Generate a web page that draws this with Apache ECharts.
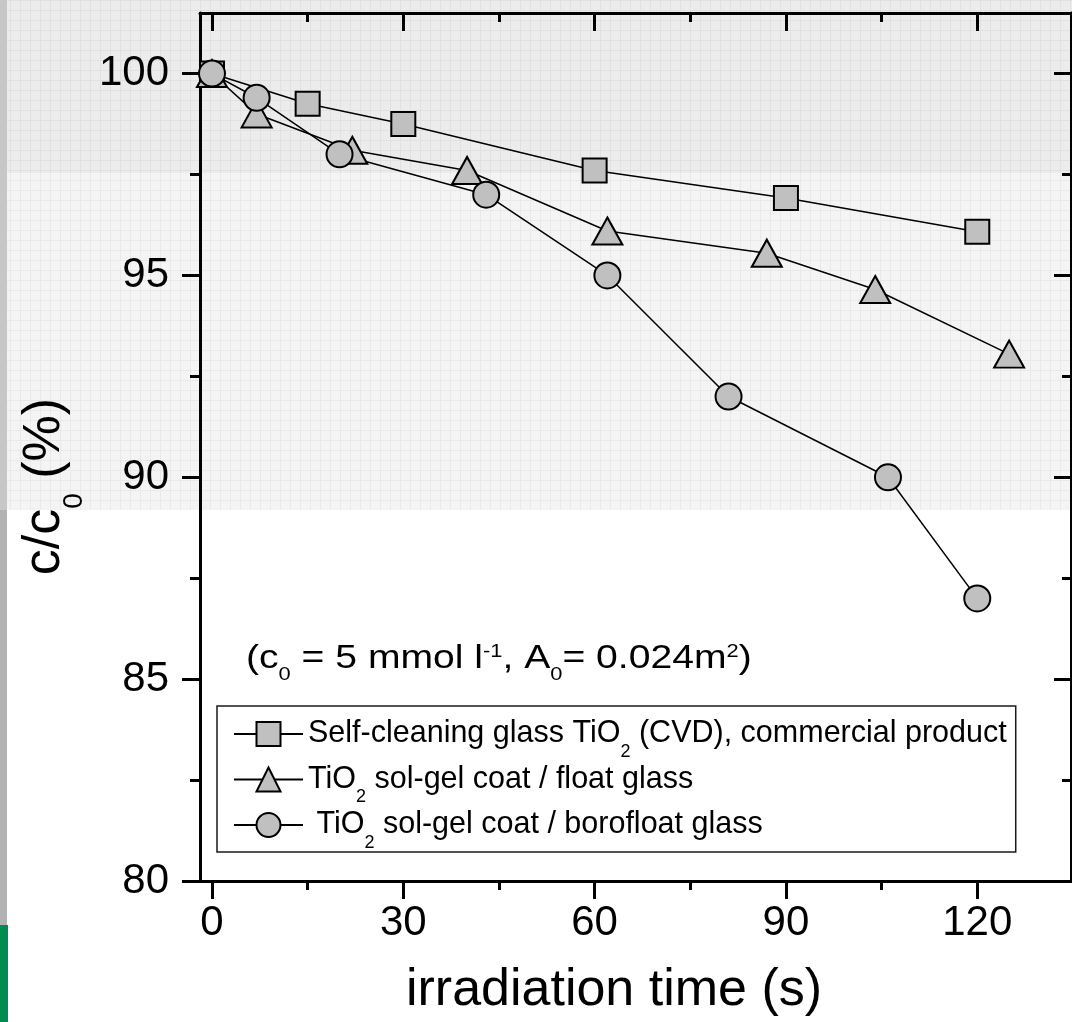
<!DOCTYPE html>
<html>
<head>
<meta charset="utf-8">
<script src="https://cdn.jsdelivr.net/npm/echarts@6/dist/echarts.min.js"></script>
<style>
  html, body { margin: 0; padding: 0; background: #ffffff; }
  #chart { width: 1072px; height: 1022px; }
</style>
</head>
<body>
<div id="chart"></div>
<script>
// Measured relative concentration c/c0 (%) against irradiation time (s)
const timeCVD = [0, 15, 30, 60, 90, 120];
const ratioCVD = [100, 99.25, 98.75, 97.6, 96.92, 96.08];

const timeFloat = [0, 7, 22, 40, 62, 87, 104, 125];
const ratioFloat = [100, 99.0, 98.1, 97.6, 96.1, 95.55, 94.65, 93.05];

const timeBoro = [0, 7, 20, 43, 62, 81, 106, 120];
const ratioBoro = [100, 99.4, 98.0, 97.0, 95.0, 92.0, 90.0, 87.0];

const seriesNames = ['cvd', 'float', 'borofloat'];
const legendLabels = [
  'Self-cleaning glass TiO{sub|2} (CVD), commercial product',
  'TiO{sub|2} sol-gel coat / float glass',
  ' TiO{sub|2} sol-gel coat / borofloat glass'
];

// Axis ticks
const xMajorTicks = [0, 30, 60, 90, 120];
const xMinorTicks = [15, 45, 75, 105];
const yMajorTicks = [80, 85, 90, 95, 100];
const yMinorTicks = [82.5, 87.5, 92.5, 97.5];
const xRange = [-1.88, 134.7];
const yRange = [80, 101.5];

const FONT = '"Liberation Sans", Arial, Helvetica, sans-serif';

function pairs(xs, ys) { return xs.map((x, i) => [x, ys[i]]); }

// faint squared-paper tile for the page background
function tile(base, line) {
  const c = document.createElement('canvas');
  c.width = 10; c.height = 10;
  const g = c.getContext('2d');
  g.fillStyle = base; g.fillRect(0, 0, 10, 10);
  g.fillStyle = line; g.fillRect(0, 0, 10, 1); g.fillRect(0, 0, 1, 10);
  return c;
}

const frameLine = { show: true, onZero: false, lineStyle: { color: '#000', width: 3 } };
const tickStyle = { color: '#000', width: 3 };

function xAxisDef(position, ticks, len, inside, withLine, withLabels) {
  const a = {
    type: 'value', gridIndex: 0, position: position,
    min: xRange[0], max: xRange[1],
    axisLine: withLine ? frameLine : { show: false, onZero: false },
    axisTick: { show: true, customValues: ticks, length: len, inside: inside, lineStyle: tickStyle },
    axisLabel: { show: false },
    splitLine: { show: false }
  };
  if (withLabels) {
    a.axisLabel = { show: true, customValues: xMajorTicks, fontSize: 42, color: '#000', fontFamily: FONT, margin: 21 };
    a.name = 'irradiation time (s)';
    a.nameLocation = 'middle';
    a.nameGap = 84;
    a.nameTextStyle = { fontSize: 52, color: '#000', fontFamily: FONT, padding: [0, 43, 0, 0] };
  }
  return a;
}

function yAxisDef(position, ticks, len, inside, withLine, withLabels) {
  const a = {
    type: 'value', gridIndex: 0, position: position,
    min: yRange[0], max: yRange[1],
    axisLine: withLine ? frameLine : { show: false, onZero: false },
    axisTick: { show: true, customValues: ticks, length: len, inside: inside, lineStyle: tickStyle },
    axisLabel: { show: false },
    splitLine: { show: false }
  };
  if (withLabels) {
    a.axisLabel = { show: true, customValues: yMajorTicks, fontSize: 42, color: '#000', fontFamily: FONT, margin: 31 };
    a.name = '{n|c/c}{s|0}{n| (%)}';
    a.nameLocation = 'middle';
    a.nameRotate = 90;
    a.nameGap = 124;
    a.nameTextStyle = {
      color: '#000', fontFamily: FONT, fontSize: 52, lineHeight: 52,
      padding: [0, 79, 0, 0],
      rich: {
        n: { fontSize: 52, lineHeight: 52, fontFamily: FONT, color: '#000' },
        s: { fontSize: 28, lineHeight: 52, fontFamily: FONT, color: '#000', verticalAlign: 'top', padding: [41, 0, 0, 0] }
      }
    };
  }
  return a;
}

const markerFill = '#c0c0c0';
function lineSeries(name, xs, ys, symbol, size) {
  return {
    name: name, type: 'line', xAxisIndex: 0, yAxisIndex: 0,
    data: pairs(xs, ys),
    symbol: symbol, symbolSize: size, showSymbol: true,
    lineStyle: { color: '#000', width: 1.5 },
    itemStyle: { color: markerFill, borderColor: '#000', borderWidth: 2 },
    emphasis: { disabled: true },
    silent: true
  };
}

const chart = echarts.init(document.getElementById('chart'), null, { renderer: 'canvas' });

const option = {
  animation: false,
  backgroundColor: '#ffffff',
  grid: { left: 200, top: 13, right: 1, bottom: 136, containLabel: false },
  xAxis: [
    xAxisDef('bottom', xMajorTicks, 18, false, true, true),
    xAxisDef('bottom', xMinorTicks, 9, false, false, false),
    xAxisDef('top', xMajorTicks, 18, true, true, false),
    xAxisDef('top', xMinorTicks, 9, true, false, false)
  ],
  yAxis: [
    yAxisDef('left', yMajorTicks, 18, false, true, true),
    yAxisDef('left', yMinorTicks, 10, false, false, false),
    yAxisDef('right', yMajorTicks, 17, true, true, false),
    yAxisDef('right', yMinorTicks, 9, true, false, false)
  ],
  legend: {
    data: seriesNames,
    orient: 'vertical',
    left: 217, top: 706,
    padding: [11, 9, 0, 16],
    itemWidth: 69, itemHeight: 30, itemGap: 1.5,
    borderColor: '#1a1a1a', borderWidth: 1.5,
    selectedMode: false,
    formatter: function (name) { return legendLabels[seriesNames.indexOf(name)]; },
    textStyle: {
      fontSize: 30.5, lineHeight: 34, color: '#000', fontFamily: FONT,
      rich: {
        sub: { fontSize: 18, lineHeight: 34, color: '#000', fontFamily: FONT, verticalAlign: 'top', padding: [26, 0, 0, 0] }
      }
    }
  },
  graphic: {
    elements: [
      { type: 'rect', z: -10, silent: true, shape: { x: 0, y: 0, width: 1072, height: 173 },
        style: { fill: { image: tile('#ececec', '#e1e1e1'), repeat: 'repeat' } } },
      { type: 'rect', z: -10, silent: true, shape: { x: 0, y: 173, width: 1072, height: 337 },
        style: { fill: { image: tile('#f4f4f4', '#e9e9e9'), repeat: 'repeat' } } },
      { type: 'rect', z: -9, silent: true, shape: { x: 0, y: 0, width: 7, height: 510 }, style: { fill: '#c7c7c7' } },
      { type: 'rect', z: -9, silent: true, shape: { x: 0, y: 510, width: 7, height: 415 }, style: { fill: '#b2b2b2' } },
      { type: 'rect', z: -9, silent: true, shape: { x: 0, y: 925, width: 8, height: 97 }, style: { fill: '#008c50' } },
      {
        type: 'text', z: 10, silent: true, x: 246, y: 640, scaleX: 1.15, scaleY: 1,
        style: {
          text: '(c{sub|0} = 5 mmol l{sup|-1}, A{sub|0}= 0.024m{sup|2})',
          fontSize: 34, lineHeight: 38, fill: '#000', fontFamily: FONT,
          align: 'left', verticalAlign: 'top',
          rich: {
            sub: { fontSize: 19, lineHeight: 38, fill: '#000', fontFamily: FONT, verticalAlign: 'top', padding: [25, 0, 0, 0] },
            sup: { fontSize: 19, lineHeight: 38, fill: '#000', fontFamily: FONT, verticalAlign: 'top', padding: [2, 0, 0, 0] }
          }
        }
      }
    ]
  },
  series: [
    lineSeries('cvd', timeCVD, ratioCVD, 'rect', 24),
    lineSeries('float', timeFloat, ratioFloat, 'triangle', [30, 27]),
    lineSeries('borofloat', timeBoro, ratioBoro, 'circle', 26)
  ]
};

chart.setOption(option);
</script>
</body>
</html>
